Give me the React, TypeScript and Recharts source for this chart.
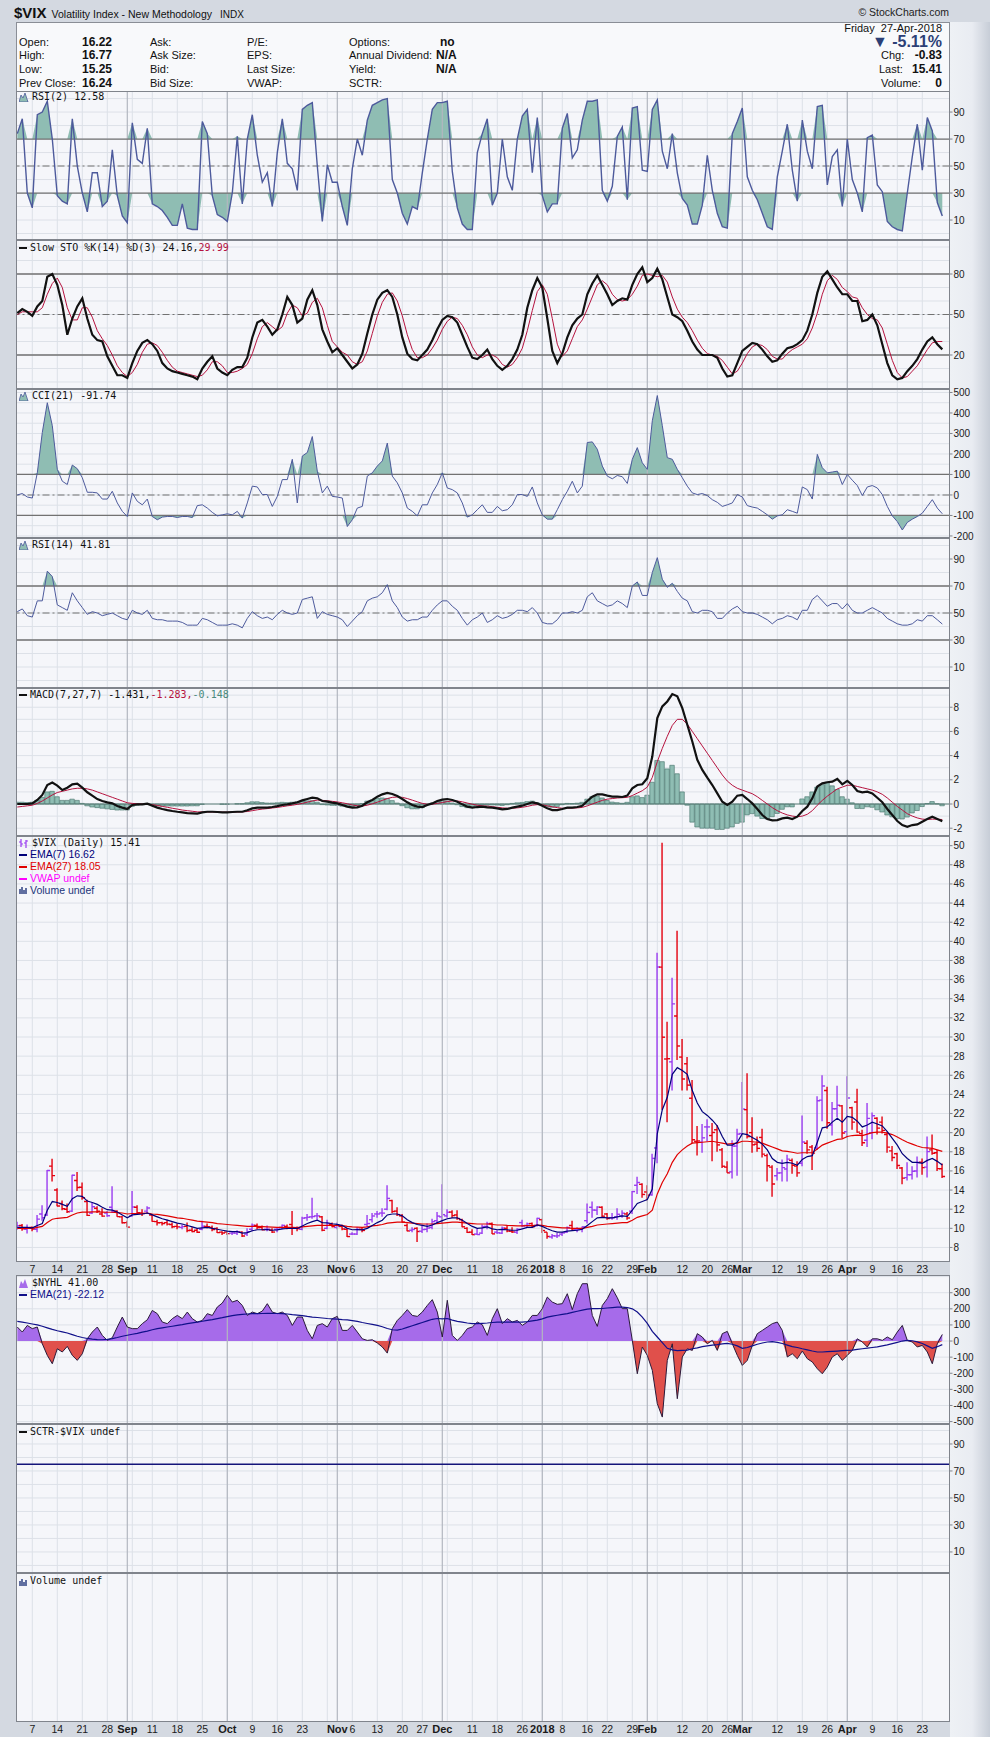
import React from 'react';
import { ComposedChart, Line, Area, Bar, XAxis, YAxis, CartesianGrid, ReferenceLine } from 'recharts';

// $VIX daily, 2-Aug-2017 .. 27-Apr-2018, one entry per trading day
const open = [
  10.15, 10.3, 9.9, 10.1, 9.9, 11.5, 11.4, 16.5, 14.0, 12.6,
  12.0, 11.8, 15.0, 14.3, 12.8, 11.6, 12.1, 11.5, 11.6, 12.2,
  11.8, 11.2, 10.6, 11.3, 12.2, 11.6, 11.8, 11.4, 10.7, 10.6,
  10.6, 10.4, 10.2, 10.1, 10.2, 9.8, 9.8, 9.9, 10.2, 10.1,
  10.0, 9.6, 9.6, 9.5, 9.5, 9.6, 9.4, 9.9, 10.3, 10.1,
  9.9, 9.8, 9.9, 10.1, 10.2, 10.4, 10.0, 9.9, 11.1, 11.2,
  11.3, 11.2, 10.0, 10.4, 10.1, 10.2, 9.9, 9.4, 9.4, 9.9,
  10.4, 10.9, 11.5, 11.6, 12.0, 12.9, 11.8, 11.3, 10.3, 9.8,
  10.0, 9.7, 9.9, 10.1, 10.8, 11.2, 11.3, 11.7, 11.4, 10.9,
  10.0, 9.6, 9.4, 9.5, 10.2, 10.5, 9.6, 9.5, 10.0, 9.7,
  9.6, 10.6, 10.3, 10.5, 10.3, 10.9, 9.6, 9.1, 9.2, 9.4,
  9.6, 10.3, 9.9, 9.9, 10.8, 12.2, 11.9, 12.2, 11.5, 11.1,
  11.2, 11.3, 11.5, 11.8, 14.5, 14.6, 13.8, 13.5, 18.4, 37.3,
  27.7, 27.4, 32.2, 27.9, 27.2, 23.6, 19.1, 19.0, 20.6, 19.7,
  20.3, 18.2, 16.4, 15.9, 18.6, 19.9, 22.4, 20.0, 18.8, 19.5,
  17.6, 16.4, 15.5, 15.8, 16.2, 17.1, 16.5, 16.8, 18.9, 18.5,
  18.4, 23.4, 24.4, 20.8, 22.5, 22.8, 20.1, 22.6, 23.2, 19.9,
  19.2, 20.0, 21.5, 21.1, 19.8, 18.1, 17.8, 16.3, 15.3, 15.6,
  16.0, 16.9, 16.4, 18.2, 17.9, 16.22,
];
const high = [
  10.68, 10.45, 10.4, 10.2, 11.4, 12.4, 16.1, 17.28, 14.2, 12.9,
  12.6, 15.6, 15.9, 14.8, 13.0, 12.7, 12.3, 12.1, 11.8, 14.4,
  11.9, 11.3, 10.8, 13.9, 12.4, 12.0, 12.3, 11.5, 10.9, 10.7,
  10.9, 10.6, 10.5, 10.4, 10.6, 10.1, 10.0, 10.8, 10.5, 10.3,
  10.1, 9.7, 9.7, 9.6, 9.8, 9.7, 10.0, 10.5, 10.5, 10.3,
  10.3, 10.0, 10.1, 10.4, 10.4, 11.8, 10.2, 11.2, 11.5, 13.2,
  11.6, 11.3, 10.9, 10.6, 10.6, 10.4, 10.0, 9.6, 10.1, 10.1,
  11.4, 11.6, 11.8, 12.1, 14.5, 13.0, 12.2, 11.5, 10.5, 10.1,
  10.1, 10.3, 10.5, 11.0, 11.7, 14.6, 12.0, 11.9, 11.9, 11.0,
  10.1, 9.9, 10.0, 10.4, 10.7, 10.6, 9.8, 10.2, 10.3, 10.1,
  10.0, 10.9, 10.6, 10.6, 11.1, 11.0, 9.6, 9.4, 9.5, 9.6,
  10.2, 10.8, 10.1, 10.2, 12.6, 12.8, 12.3, 12.3, 11.6, 11.6,
  12.1, 11.9, 11.7, 13.9, 15.4, 14.7, 14.5, 17.8, 38.8, 50.3,
  31.6, 36.2, 41.1, 29.8, 27.9, 25.5, 20.7, 20.9, 21.4, 21.0,
  20.8, 18.4, 17.0, 19.2, 20.4, 25.3, 26.2, 21.6, 19.6, 20.4,
  17.8, 16.6, 16.3, 17.2, 17.7, 17.3, 17.0, 21.8, 19.2, 18.7,
  23.8, 26.0, 24.8, 23.2, 24.9, 22.9, 25.9, 22.7, 24.6, 20.3,
  23.1, 22.1, 21.6, 21.7, 20.1, 18.6, 17.9, 16.4, 16.9, 16.5,
  17.5, 17.3, 19.6, 19.8, 18.2, 16.77,
];
const low = [
  9.85, 9.75, 9.45, 9.7, 9.6, 10.8, 11.3, 14.9, 12.3, 11.9,
  11.6, 11.7, 13.9, 13.0, 11.3, 11.5, 11.6, 11.2, 11.2, 11.6,
  11.2, 10.5, 10.1, 11.2, 11.5, 11.3, 11.5, 10.7, 10.3, 10.3,
  10.3, 10.0, 9.9, 9.9, 9.6, 9.6, 9.5, 9.8, 10.0, 9.7,
  9.5, 9.3, 9.3, 9.3, 9.3, 9.1, 9.2, 9.7, 9.9, 9.8,
  9.7, 9.5, 9.6, 9.9, 9.9, 9.3, 9.7, 9.8, 10.8, 11.0,
  10.9, 9.7, 9.9, 10.1, 9.9, 9.8, 9.1, 9.3, 9.3, 9.6,
  10.1, 10.6, 11.1, 11.2, 11.9, 11.6, 11.3, 10.6, 9.7, 9.6,
  8.56, 9.5, 9.6, 9.9, 10.5, 10.5, 11.1, 11.1, 10.9, 10.1,
  9.5, 9.3, 9.3, 9.4, 9.9, 9.4, 9.4, 9.4, 9.6, 9.5,
  9.4, 10.1, 10.1, 10.1, 10.2, 9.5, 8.9, 8.9, 9.0, 9.2,
  9.5, 9.8, 9.6, 9.6, 10.5, 11.1, 11.4, 11.1, 10.9, 10.9,
  10.9, 11.1, 10.9, 11.5, 13.6, 13.2, 12.9, 13.4, 16.8, 22.4,
  21.1, 24.4, 27.6, 24.4, 24.4, 18.9, 17.6, 17.9, 19.1, 17.0,
  18.0, 16.3, 15.8, 15.2, 15.5, 19.6, 19.4, 17.9, 18.0, 17.4,
  14.9, 13.3, 15.0, 14.9, 14.9, 15.7, 15.4, 16.5, 17.8, 16.1,
  18.2, 21.2, 20.4, 19.7, 21.6, 19.4, 19.5, 20.3, 20.0, 18.6,
  18.5, 19.3, 19.8, 19.9, 17.9, 17.0, 16.2, 14.6, 15.0, 15.1,
  15.3, 15.6, 15.3, 17.7, 16.0, 15.25,
];
const close = [
  10.28, 9.95, 10.03, 9.93, 10.96, 11.11, 16.04, 15.51, 12.33, 12.04,
  11.74, 15.55, 14.26, 13.19, 11.35, 12.25, 11.78, 11.28, 11.32, 11.7,
  11.22, 10.59, 10.13, 12.23, 11.63, 11.55, 12.12, 10.73, 10.58, 10.5,
  10.44, 10.17, 10.15, 10.18, 9.78, 9.67, 9.59, 10.21, 10.17, 9.87,
  9.55, 9.51, 9.45, 9.51, 9.63, 9.19, 9.65, 10.33, 10.08, 9.85,
  9.91, 9.61, 9.91, 10.31, 10.07, 10.05, 9.97, 11.07, 11.16, 11.23,
  11.3, 9.8, 10.5, 10.18, 10.2, 9.93, 9.14, 9.4, 9.89, 9.78,
  10.5, 11.29, 11.5, 11.59, 13.13, 11.76, 11.43, 10.65, 9.73, 9.88,
  9.67, 9.87, 10.03, 10.7, 11.28, 11.43, 11.68, 11.33, 11.02, 10.16,
  9.58, 9.34, 9.35, 10.18, 10.49, 9.42, 9.53, 10.03, 9.72, 9.62,
  9.9, 10.25, 10.47, 10.18, 11.04, 9.77, 9.15, 9.22, 9.22, 9.52,
  10.08, 9.82, 9.88, 10.16, 11.66, 11.91, 12.22, 11.27, 11.03, 11.1,
  11.47, 11.58, 11.08, 13.84, 14.79, 13.54, 13.47, 17.31, 37.32, 29.98,
  27.73, 33.46, 29.06, 25.61, 24.97, 19.26, 19.13, 19.46, 20.6, 20.02,
  18.72, 16.49, 15.8, 18.59, 19.85, 22.47, 19.59, 18.73, 18.36, 17.76,
  16.54, 14.64, 15.78, 16.35, 17.23, 16.59, 15.8, 19.02, 18.2, 17.86,
  23.34, 24.87, 21.03, 22.5, 22.87, 19.97, 23.62, 21.1, 20.06, 18.94,
  21.49, 21.77, 20.47, 20.24, 18.49, 17.41, 16.56, 15.25, 15.6, 15.96,
  16.88, 16.34, 18.02, 17.84, 16.24, 15.41,
];
const ema7 = [
  10.1, 10.1, 10.1, 10.05, 10.3, 10.5, 11.9, 12.8, 12.7, 12.5, 12.3, 13.1, 13.4, 13.35, 12.85, 12.7, 12.5, 12.2, 11.95, 11.9,
  11.7, 11.4, 11.1, 11.4, 11.45, 11.5, 11.6, 11.4, 11.2, 11.0, 10.85, 10.7, 10.55, 10.45, 10.3, 10.15, 10.0, 10.05, 10.1, 10.0,
  9.9, 9.8, 9.7, 9.65, 9.65, 9.5, 9.55, 9.75, 9.85, 9.85, 9.87, 9.8, 9.83, 9.95, 9.98, 10.0, 9.99, 10.25, 10.5, 10.7,
  10.85, 10.6, 10.58, 10.48, 10.41, 10.29, 10.0, 9.85, 9.86, 9.84, 10.0, 10.3, 10.6, 10.85, 11.4, 11.5, 11.5, 11.3, 10.9, 10.6,
  10.4, 10.3, 10.2, 10.35, 10.6, 10.8, 11.0, 11.1, 11.1, 10.85, 10.5, 10.2, 10.0, 10.05, 10.15, 9.95, 9.85, 9.9, 9.85, 9.8,
  9.8, 9.95, 10.1, 10.1, 10.35, 10.2, 9.95, 9.75, 9.6, 9.6, 9.7, 9.75, 9.8, 9.9, 10.3, 10.7, 11.1, 11.15, 11.1, 11.1,
  11.2, 11.3, 11.25, 11.9, 12.6, 12.8, 13.0, 14.1, 19.9, 22.4, 23.7, 26.1, 26.8, 26.5, 26.1, 24.4, 23.1, 22.2, 21.8, 21.3,
  20.7, 19.6, 18.7, 18.7, 19.0, 19.9, 19.8, 19.5, 19.2, 18.8, 18.2, 17.3, 16.9, 16.8, 16.9, 16.8, 16.6, 17.2, 17.5, 17.6,
  19.0, 20.5, 20.6, 21.1, 21.5, 21.1, 21.7, 21.6, 21.2, 20.6, 20.8, 21.1, 20.9, 20.7, 20.1, 19.4, 18.7, 17.8, 17.3, 16.9,
  16.9, 16.8, 17.1, 17.3, 17.0, 16.62,
];
const ema27 = [
  10.0, 10.0, 10.0, 10.0, 10.1, 10.2, 10.6, 10.95, 11.05, 11.1, 11.15, 11.4, 11.6, 11.7, 11.7, 11.72, 11.72, 11.7, 11.68, 11.68,
  11.65, 11.6, 11.5, 11.55, 11.55, 11.55, 11.6, 11.5, 11.45, 11.38, 11.3, 11.2, 11.1, 11.05, 10.95, 10.85, 10.75, 10.7, 10.65, 10.6,
  10.5, 10.45, 10.4, 10.35, 10.3, 10.25, 10.2, 10.2, 10.2, 10.18, 10.15, 10.12, 10.1, 10.1, 10.1, 10.1, 10.08, 10.15, 10.2, 10.25,
  10.3, 10.3, 10.3, 10.3, 10.3, 10.28, 10.2, 10.15, 10.13, 10.1, 10.15, 10.25, 10.3, 10.4, 10.55, 10.6, 10.65, 10.65, 10.6, 10.55,
  10.5, 10.45, 10.45, 10.45, 10.5, 10.55, 10.6, 10.65, 10.65, 10.6, 10.55, 10.5, 10.45, 10.45, 10.45, 10.4, 10.35, 10.35, 10.3, 10.28,
  10.25, 10.25, 10.28, 10.28, 10.33, 10.3, 10.2, 10.15, 10.1, 10.05, 10.05, 10.0, 10.0, 10.0, 10.1, 10.2, 10.35, 10.4, 10.45, 10.5,
  10.55, 10.6, 10.6, 10.85, 11.15, 11.3, 11.45, 11.9, 13.6, 14.8, 15.7, 16.9, 17.7, 18.2, 18.6, 18.9, 18.95, 19.0, 19.05, 19.1,
  19.0, 18.9, 18.8, 18.85, 18.9, 19.1, 19.1, 19.05, 19.0, 18.9, 18.7, 18.5, 18.3, 18.1, 18.05, 17.95, 17.85, 17.9, 17.9, 17.9,
  18.3, 18.7, 18.9, 19.1, 19.3, 19.35, 19.6, 19.7, 19.75, 19.7, 19.85, 20.0, 20.05, 20.05, 19.95, 19.8, 19.55, 19.25, 19.0, 18.8,
  18.6, 18.45, 18.4, 18.35, 18.2, 18.05,
];

// indicators
const rsi2 = [
  74, 85, 30, 19, 88, 90, 98, 70, 28, 24, 22, 85, 50, 30, 16, 45, 45, 20, 24, 62,
  28, 13, 8, 82, 55, 52, 78, 22, 20, 17, 12, 6, 6, 22, 4, 3, 3, 83, 74, 28,
  14, 12, 9, 30, 72, 22, 70, 88, 58, 38, 45, 20, 60, 85, 52, 48, 32, 92, 95, 97,
  50, 9, 51, 38, 38, 20, 6, 48, 70, 58, 84, 95, 97, 99, 100, 40, 30, 15, 7, 20,
  18, 45, 70, 92, 97, 97, 98, 46, 19, 7, 3, 3, 60, 74, 85, 21, 30, 70, 42, 32,
  70, 87, 92, 45, 86, 28, 16, 22, 22, 78, 89, 56, 62, 84, 98, 98, 99, 32, 24, 35,
  72, 79, 25, 93, 94, 47, 46, 92, 99, 61, 48, 74, 45, 26, 21, 7, 7, 21, 58, 32,
  15, 5, 4, 74, 83, 93, 42, 32, 25, 15, 5, 3, 42, 61, 81, 47, 24, 84, 61, 48,
  94, 95, 36, 57, 62, 20, 70, 40, 30, 16, 71, 73, 36, 31, 9, 5, 3, 2, 30, 57,
  81, 47, 86, 76, 23, 13,
];
const stoK = [
  51, 54, 52, 49, 56, 60, 78, 80, 72, 57, 35, 47, 56, 62, 47, 35, 31, 30, 19, 12,
  5, 5, 3, 14, 23, 29, 31, 28, 23, 14, 10, 8, 7, 6, 5, 4, 2, 10, 15, 19,
  10, 7, 5, 9, 11, 11, 18, 33, 44, 46, 41, 35, 39, 50, 63, 57, 44, 47, 61, 68,
  57, 39, 30, 22, 25, 20, 15, 10, 13, 21, 36, 50, 61, 66, 68, 63, 50, 33, 21, 17,
  16, 20, 24, 31, 39, 46, 49, 48, 44, 35, 26, 18, 17, 20, 24, 17, 12, 9, 12, 17,
  24, 35, 55, 68, 77, 70, 47, 23, 14, 21, 33, 42, 47, 50, 65, 73, 79, 72, 65, 57,
  60, 62, 61, 72, 80, 85, 74, 77, 84, 76, 63, 50, 48, 45, 38, 30, 24, 20, 20, 20,
  18, 10, 4, 5, 14, 23, 26, 29, 28, 24, 19, 15, 16, 21, 25, 26, 28, 31, 38, 50,
  66, 78, 82, 76, 70, 65, 65, 60, 60, 45, 46, 50, 42, 28, 14, 5, 2, 3, 8, 12,
  17, 24, 30, 33, 28, 24.16,
];
const stoD = [
  50, 52, 52, 52, 52, 55, 65, 73, 77, 70, 55, 46, 46, 55, 55, 48, 38, 32, 27, 20,
  12, 7, 4, 7, 13, 22, 28, 29, 27, 22, 16, 11, 8, 7, 6, 5, 4, 5, 9, 15,
  15, 12, 7, 7, 8, 10, 13, 21, 32, 41, 44, 41, 38, 41, 51, 57, 55, 49, 51, 59,
  62, 55, 42, 30, 26, 22, 20, 15, 13, 15, 23, 36, 49, 59, 65, 66, 60, 49, 35, 24,
  18, 18, 20, 25, 31, 39, 45, 48, 47, 42, 35, 26, 20, 18, 20, 20, 18, 13, 11, 13,
  18, 25, 38, 53, 67, 72, 65, 47, 28, 19, 23, 32, 41, 46, 54, 63, 72, 75, 72, 65,
  61, 60, 61, 65, 71, 79, 80, 79, 78, 79, 74, 63, 54, 48, 44, 38, 31, 25, 21, 20,
  19, 16, 11, 6, 8, 14, 21, 26, 28, 27, 24, 19, 17, 17, 21, 24, 26, 28, 32, 40,
  51, 65, 75, 79, 76, 70, 67, 63, 62, 55, 50, 47, 46, 40, 28, 16, 7, 3, 4, 8,
  12, 18, 24, 29, 30, 29.99,
];
const cci = [
  0, 7, -10, -15, 108, 305, 450, 338, 125, 67, 51, 146, 128, 84, 13, 13, 10, -20, -20, 18,
  -39, -80, -105, 10, -31, -48, -20, -105, -121, -108, -105, -105, -110, -105, -105, -110, -52, -48, -64, -85,
  -102, -97, -92, -97, -80, -113, -39, 43, 39, 2, 2, -56, -7, 75, 75, 174, -39, 190, 207, 285,
  116, 10, 43, -7, -10, -15, -154, -121, -64, -56, 92, 108, 141, 166, 253, 92, 59, 10, -64, -80,
  -102, -48, -48, 10, 51, 108, 34, 26, 10, -39, -108, -97, -72, -48, -85, -85, -56, -77, -72, -48,
  2, 2, -7, 39, -39, -97, -118, -118, -72, -23, 18, 67, 10, 43, 256, 259, 223, 141, 92, 79,
  95, 89, 56, 174, 231, 157, 125, 362, 485, 338, 182, 174, 125, 84, 43, 10, 2, 7, -3, -23,
  -36, -56, -48, -39, 2, -10, -52, -59, -64, -80, -97, -118, -102, -97, -72, -80, -89, 39, 26, -20,
  198, 133, 108, 112, 116, 51, 100, 72, 46, -3, 39, 46, 34, 2, -56, -102, -130, -171, -134, -118,
  -105, -89, -56, -23, -64, -91.74,
];
const rsi14 = [
  51, 53, 48, 47, 59, 59, 81, 77, 56, 54, 52, 65, 59, 54, 49, 51, 50, 48, 49, 50,
  48, 46, 45, 52, 50, 49, 52, 46, 45, 45, 44, 44, 44, 43, 41, 41, 41, 46, 45, 43,
  41, 41, 41, 42, 41, 39, 46, 51, 48, 46, 47, 45, 49, 52, 50, 49, 50, 60, 61, 62,
  46, 51, 49, 48, 47, 45, 40, 44, 48, 51, 59, 61, 62, 65, 71, 59, 54, 47, 44, 45,
  45, 47, 47, 52, 56, 59, 59, 55, 52, 46, 41, 45, 47, 50, 43, 45, 48, 46, 47, 49,
  52, 52, 51, 54, 50, 43, 42, 42, 45, 50, 50, 51, 50, 52, 62, 65, 59, 57, 55, 56,
  59, 57, 54, 70, 73, 63, 63, 80, 91, 75, 69, 72, 66, 61, 59, 51, 50, 52, 52, 51,
  46, 46, 50, 53, 55, 51, 50, 50, 49, 47, 45, 42, 45, 46, 48, 47, 45, 52, 52, 60,
  63, 59, 55, 57, 57, 53, 57, 52, 50, 50, 52, 54, 52, 50, 46, 44, 42, 41, 41, 42,
  45, 44, 48, 48, 45, 41.81,
];
const macd = [
  0, 0, 0, 0.05, 0.33, 0.75, 1.57, 1.77, 1.52, 1.16, 1.35, 1.63, 1.69, 1.35, 0.97, 0.69, 0.41, 0.25, 0.14, 0.05,
  -0.17, -0.3, -0.41, -0.08, -0.03, -0.03, 0.03, -0.14, -0.3, -0.41, -0.5, -0.58, -0.64, -0.69, -0.75, -0.77, -0.8, -0.69, -0.64, -0.64,
  -0.66, -0.69, -0.69, -0.66, -0.64, -0.64, -0.52, -0.36, -0.3, -0.3, -0.3, -0.25, -0.17, -0.08, -0.03, 0.05, 0.14, 0.3, 0.41, 0.52,
  0.47, 0.25, 0.19, 0.11, 0.05, -0.08, -0.22, -0.3, -0.28, -0.14, 0.14, 0.33, 0.61, 0.8, 0.91, 0.83, 0.66, 0.41, 0.14, -0.08,
  -0.22, -0.25, -0.08, 0.05, 0.25, 0.36, 0.41, 0.33, 0.19, -0.03, -0.22, -0.3, -0.25, -0.22, -0.28, -0.3, -0.36, -0.44, -0.41, -0.3,
  -0.22, -0.14, 0, 0.14, 0.05, -0.14, -0.36, -0.5, -0.5, -0.41, -0.3, -0.3, -0.25, -0.14, 0.25, 0.61, 0.8, 0.8, 0.69, 0.61,
  0.61, 0.58, 0.69, 1.3, 1.57, 1.63, 2.13, 3.92, 7.1, 8.07, 8.48, 9.09, 8.9, 7.93, 6.55, 5.17, 3.65, 2.82, 2.18, 1.57,
  0.88, 0.19, -0.08, 0.19, 0.69, 0.75, 0.41, 0.05, -0.41, -0.91, -1.24, -1.35, -1.33, -1.19, -1.13, -1.24, -1.05, -0.58, -0.22, 0.47,
  1.44, 1.71, 1.8, 1.85, 2.07, 1.63, 1.91, 1.57, 1.08, 0.97, 1.02, 0.88, 0.52, 0.14, -0.41, -0.91, -1.41, -1.74, -1.88, -1.74,
  -1.69, -1.46, -1.24, -1.05, -1.24, -1.431,
];
const macdSignal = [
  -0.25, -0.2, -0.15, -0.1, 0.05, 0.25, 0.5, 0.75, 0.95, 1.05, 1.15, 1.25, 1.3, 1.3, 1.25, 1.15, 1.0, 0.85, 0.7, 0.55,
  0.4, 0.25, 0.1, 0.05, 0.02, 0, 0, -0.05, -0.12, -0.2, -0.27, -0.35, -0.42, -0.5, -0.55, -0.6, -0.65, -0.66, -0.66, -0.66,
  -0.66, -0.67, -0.67, -0.67, -0.66, -0.65, -0.62, -0.55, -0.48, -0.42, -0.38, -0.33, -0.28, -0.22, -0.15, -0.1, -0.03, 0.05, 0.15, 0.25,
  0.32, 0.3, 0.27, 0.22, 0.17, 0.1, 0.02, -0.08, -0.15, -0.17, -0.1, 0.02, 0.15, 0.3, 0.45, 0.55, 0.58, 0.55, 0.45, 0.32,
  0.18, 0.05, -0.02, -0.02, 0.05, 0.12, 0.2, 0.25, 0.25, 0.18, 0.08, -0.02, -0.1, -0.15, -0.18, -0.22, -0.27, -0.32, -0.35, -0.35,
  -0.32, -0.27, -0.2, -0.1, -0.05, -0.07, -0.15, -0.23, -0.3, -0.35, -0.35, -0.34, -0.32, -0.28, -0.15, 0, 0.15, 0.3, 0.4, 0.45,
  0.5, 0.52, 0.55, 0.7, 0.9, 1.1, 1.4, 2.2, 3.5, 4.6, 5.6, 6.5, 7.0, 7.0, 6.6, 6.0, 5.4, 4.8, 4.2, 3.6,
  3.0, 2.4, 1.9, 1.55, 1.3, 1.15, 1.0, 0.85, 0.6, 0.3, 0, -0.3, -0.55, -0.75, -0.9, -1.0, -1.05, -1.0, -0.85, -0.55,
  -0.1, 0.3, 0.65, 0.95, 1.25, 1.4, 1.55, 1.55, 1.45, 1.35, 1.25, 1.15, 1.0, 0.8, 0.5, 0.15, -0.2, -0.5, -0.8, -1.0,
  -1.15, -1.25, -1.28, -1.25, -1.26, -1.283,
];
const macdHist = [
  0.15, 0.15, 0.12, 0.15, 0.3, 0.55, 1.0, 1.05, 0.6, 0.3, 0.3, 0.4, 0.3, 0.05, -0.15, -0.25, -0.3, -0.35, -0.4, -0.45,
  -0.5, -0.5, -0.5, -0.2, -0.1, -0.05, 0.05, -0.08, -0.15, -0.17, -0.17, -0.17, -0.17, -0.17, -0.17, -0.15, -0.15, -0.03, 0, 0,
  0, -0.02, -0.02, 0, 0.02, 0.02, 0.1, 0.18, 0.18, 0.12, 0.08, 0.08, 0.1, 0.14, 0.12, 0.15, 0.17, 0.25, 0.26, 0.27,
  0.15, -0.05, -0.08, -0.11, -0.12, -0.18, -0.24, -0.22, -0.13, 0.03, 0.24, 0.31, 0.46, 0.5, 0.46, 0.28, 0.08, -0.14, -0.31, -0.4,
  -0.4, -0.3, -0.06, 0.07, 0.2, 0.24, 0.21, 0.08, -0.06, -0.21, -0.3, -0.28, -0.15, -0.07, -0.1, -0.08, -0.09, -0.12, -0.06, 0.05,
  0.1, 0.13, 0.2, 0.24, 0.1, -0.07, -0.21, -0.27, -0.2, -0.06, 0.05, 0.04, 0.07, 0.14, 0.4, 0.61, 0.65, 0.5, 0.29, 0.16,
  0.11, 0.06, 0.14, 0.6, 0.67, 0.53, 0.73, 1.8, 3.6, 3.5, 2.9, 3.2, 2.5, 1.0, -0.1, -1.5, -1.9, -2.0, -2.0, -2.0,
  -2.1, -2.1, -2.0, -1.9, -1.6, -1.5, -0.9, -0.8, -1.0, -1.2, -1.24, -1.05, -0.78, -0.44, -0.23, -0.24, 0, 0.42, 0.6, 1.0,
  1.4, 1.6, 1.8, 1.5, 1.2, 0.6, 0.4, 0.1, -0.37, -0.38, -0.23, -0.27, -0.48, -0.66, -0.91, -1.06, -1.21, -1.24, -1.08, -0.74,
  -0.54, -0.21, 0.04, 0.2, 0.02, -0.148,
];
const nyhl = [
  87, 56, 97, 77, 87, -17, -89, -141, -48, -68, -33, -89, -120, -79, 14, 56, 87, 35, 4, 21,
  87, 149, 87, 77, 77, 108, 132, 190, 170, 118, 108, 139, 159, 139, 180, 139, 118, 128, 170, 159,
  211, 236, 284, 242, 253, 221, 159, 180, 170, 186, 232, 180, 170, 180, 159, 97, 149, 149, 66, 14,
  97, 108, 87, 139, 153, 66, 66, 97, 56, 14, 4, 8, -12, -37, -75, 77, 128, 159, 195, 159,
  153, 180, 221, 257, 180, 25, 253, 35, 4, 35, 77, 87, 118, 101, 35, 139, 201, 108, 139, 118,
  128, 97, 118, 159, 159, 201, 273, 242, 228, 232, 294, 195, 294, 356, 356, 159, 91, 221, 263, 325,
  269, 201, 201, 4, -203, -37, -89, -182, -389, -472, -120, -17, -358, -99, -48, -58, 46, 25, -17, 4,
  -58, 46, 60, -17, -89, -151, -120, -27, 46, 66, 87, 108, 118, 66, -99, -79, -110, -62, -110, -130,
  -172, -203, -161, -99, -79, -120, -89, -58, 14, -6, -37, 14, 14, 4, 25, 8, 56, 97, 4, -6,
  -37, -27, -68, -141, -17, 41,
];
const nyhlEma = [
  122, 118, 112, 106, 100, 92, 82, 72, 64, 57, 50, 40, 30, 22, 16, 12, 9, 8, 10, 15,
  22, 30, 36, 42, 48, 55, 62, 70, 77, 82, 87, 92, 97, 102, 108, 113, 118, 123, 128, 133,
  139, 145, 152, 158, 163, 166, 168, 170, 170, 171, 172, 172, 171, 170, 168, 164, 161, 158, 153, 149,
  146, 143, 140, 138, 136, 133, 131, 127, 122, 115, 109, 103, 97, 89, 78, 70, 68, 75, 85, 95,
  105, 115, 125, 135, 140, 138, 140, 130, 122, 118, 112, 108, 108, 110, 112, 115, 118, 118, 118, 118,
  118, 118, 120, 125, 130, 138, 148, 155, 160, 165, 170, 178, 185, 192, 198, 201, 201, 202, 205, 208,
  210, 211, 208, 200, 180, 149, 110, 60, 25, -10, -45, -55, -60, -58, -56, -48, -42, -35, -30, -25,
  -22, -18, -15, -20, -30, -45, -40, -30, -20, -12, -6, -4, -8, -15, -25, -35, -40, -48, -55, -62,
  -68, -68, -66, -64, -62, -60, -58, -56, -52, -48, -44, -40, -36, -30, -24, -16, -8, 0, 4, 2,
  -5, -15, -30, -45, -35, -22.12,
];

// calendar (trading-day index)
const weekStarts = [3, 8, 13, 18, 23, 27, 32, 37, 42, 47, 52, 57, 62, 67, 72, 77, 81, 86, 91, 96, 101, 105, 109, 114, 118, 123, 128, 133, 138, 142, 147, 152, 157, 162, 166, 171, 176, 181];
const monthStarts = [22, 42, 64, 85, 105, 126, 145, 166];
const tickIdx = [3, 8, 13, 18, 22, 27, 32, 37, 42, 47, 52, 57, 64, 67, 72, 77, 81, 85, 91, 96, 101, 105, 109, 114, 118, 123, 126, 133, 138, 142, 145, 152, 157, 162, 166, 171, 176, 181];
const tickText = ['7', '14', '21', '28', 'Sep', '11', '18', '25', 'Oct', '9', '16', '23', 'Nov', '6', '13', '20', '27', 'Dec', '11', '18', '26', '2018', '8', '16', '22', '29', 'Feb', '12', '20', '26', 'Mar', '12', '19', '26', 'Apr', '9', '16', '23'];
const boldTicks = ['Sep', 'Oct', 'Nov', 'Dec', '2018', 'Feb', 'Mar', 'Apr'];

const rows = close.map((c, i) => ({
  i,
  o: open[i], h: high[i], l: low[i], c,
  hl: [low[i], high[i]],
  up: i === 0 || c >= close[i - 1],
  ema7: ema7[i], ema27: ema27[i],
  rsi2: rsi2[i], rsi2Hi: [70, Math.max(rsi2[i], 70)], rsi2Lo: [Math.min(rsi2[i], 30), 30],
  k: stoK[i], d: stoD[i],
  cci: cci[i], cciHi: [100, Math.max(cci[i], 100)], cciLo: [Math.min(cci[i], -100), -100],
  rsi14: rsi14[i], rsi14Hi: [70, Math.max(rsi14[i], 70)],
  macd: macd[i], signal: macdSignal[i], hist: macdHist[i],
  nyhl: nyhl[i], nyhlPos: [0, Math.max(nyhl[i], 0)], nyhlNeg: [Math.min(nyhl[i], 0), 0], nyhlEma: nyhlEma[i],
}));

const X_DOMAIN: [number, number] = [-0.16, 186.44];
const PLOT_BG = '#f5f6fa';
const GRID = '#dde1e8';
const LEVEL = '#727272';
const TEAL = '#8fbdb3';
const RSI_LINE = '#4d5a9c';
const CRIMSON = '#b5123e';
const sans = '"Liberation Sans", Arial, sans-serif';
const mono = '"DejaVu Sans Mono", monospace';

function DateTick(props: any) {
  const { x, y, payload } = props;
  const k = tickIdx.indexOf(payload.value);
  const t = k >= 0 ? tickText[k] : '';
  const bold = boldTicks.includes(t);
  return (
    <text x={x} y={y} dy={10.5} textAnchor="middle" fontFamily={sans} fontSize={bold ? 11 : 10.5} fontWeight={bold ? 700 : 400} fill="#1b1b1b">
      {t}
    </text>
  );
}

function OhlcBar(props: any) {
  const { x, y, width, height, payload } = props;
  if (x == null || y == null || !payload) return null;
  const top = Math.min(y, y + height);
  const bot = Math.max(y, y + height);
  const span = payload.h - payload.l || 1;
  const yO = top + ((payload.h - payload.o) / span) * (bot - top);
  const yC = top + ((payload.h - payload.c) / span) * (bot - top);
  const cx = x + width / 2;
  const col = payload.up ? '#9a3cf0' : '#e3000f';
  return (
    <g stroke={col} strokeWidth={1.4}>
      <line x1={cx} x2={cx} y1={top} y2={bot} />
      <line x1={cx - 3} x2={cx} y1={yO} y2={yO} />
      <line x1={cx} x2={cx + 3} y1={yC} y2={yC} />
    </g>
  );
}

type PanelProps = {
  top: number;
  height: number;
  domain: [number, number];
  ticks?: number[];
  grid?: number[];
  dates?: boolean;
  children?: React.ReactNode;
};

function Panel({ top, height, domain, ticks, grid, dates, children }: PanelProps) {
  const axisH = dates ? (top > 1500 ? 15 : 13) : 0;
  return (
    <div style={{ position: 'absolute', left: 0, top, width: 990, height }}>
      <ComposedChart width={990} height={height} data={rows} margin={{ top: 0, right: 0, bottom: 0, left: 16.5 }}>
        <CartesianGrid
          fill={PLOT_BG}
          stroke={GRID}
          horizontal={!!grid}
          horizontalValues={grid}
          verticalValues={weekStarts}
        />
        <XAxis
          dataKey="i"
          type="number"
          domain={X_DOMAIN}
          allowDataOverflow
          hide={!dates}
          height={axisH}
          ticks={tickIdx}
          interval={0}
          tick={DateTick}
          tickLine={false}
          axisLine={false}
          tickSize={0}
          tickMargin={0}
        />
        <YAxis
          orientation="right"
          width={40.5}
          type="number"
          domain={domain}
          allowDataOverflow
          ticks={ticks ?? []}
          interval={0}
          tickSize={3}
          tickMargin={1}
          tick={{ fontSize: 10, fill: '#202020', fontFamily: sans }}
          axisLine={{ stroke: '#80848c' }}
          tickLine={{ stroke: '#80848c' }}
        />
        {monthStarts.map((m) => (
          <ReferenceLine key={'m' + m} x={m} stroke="#b3b7c0" strokeWidth={1.2} />
        ))}
        {children}
      </ComposedChart>
      <div
        style={{
          position: 'absolute', left: 16, top: 0, width: 934, height: height - axisH,
          border: '1px solid #80848c', boxSizing: 'border-box', pointerEvents: 'none',
        }}
      />
    </div>
  );
}

const mountain = (
  <svg width="10" height="10" style={{ marginRight: 3 }}>
    <path d="M0 10 L2 3 L4 6 L6 1 L9 10 Z" fill={TEAL} stroke={RSI_LINE} strokeWidth="0.8" />
  </svg>
);
const dash = (color: string) => (
  <span style={{ display: 'inline-block', width: 8, height: 2, background: color, marginRight: 3, verticalAlign: 'middle' }} />
);

function Legend({ top, children }: { top: number; children: React.ReactNode }) {
  return (
    <div style={{ position: 'absolute', left: 19, top, font: `10px ${mono}`, lineHeight: '12px', color: '#111', whiteSpace: 'nowrap', display: 'flex', alignItems: 'center' }}>
      {children}
    </div>
  );
}

function Cell({ x, y, children, bold, size, align, color }: any) {
  const style: React.CSSProperties = {
    position: 'absolute', top: y - 8, height: 16, lineHeight: '16px', whiteSpace: 'nowrap',
    fontFamily: sans, fontSize: size ?? (bold ? 12 : 11), fontWeight: bold ? 700 : 400, color: color ?? '#111',
  };
  if (align === 'right') style.right = 990 - x;
  else style.left = x;
  return <div style={style}>{children}</div>;
}

export default function App() {
  const levels = (lo: number, mid: number, hi: number) => [
    <ReferenceLine key="lo" y={lo} stroke={LEVEL} strokeWidth={1.3} />,
    <ReferenceLine key="mid" y={mid} stroke={LEVEL} strokeWidth={1.1} strokeDasharray="7 3 2 3" />,
    <ReferenceLine key="hi" y={hi} stroke={LEVEL} strokeWidth={1.3} />,
  ];
  const tens = [0, 10, 20, 30, 40, 50, 60, 70, 80, 90, 100];

  return (
    <div style={{ position: 'absolute', left: 0, top: 0, width: 990, height: 1737, overflow: 'hidden', background: '#d4d9e1' }}>
      <style>{'.recharts-surface{overflow:visible}'}</style>
      {/* right axis strip */}
      <div style={{ position: 'absolute', left: 950, top: 22, width: 40, height: 1715, background: 'linear-gradient(to right, #eef1f5 0%, #e9ecf2 55%, #c7cdd7 100%)' }} />

      {/* title */}
      <div style={{ position: 'absolute', left: 14, top: 4, fontFamily: sans, whiteSpace: 'nowrap', color: '#111' }}>
        <span style={{ fontSize: 15, fontWeight: 700 }}>$VIX</span>
        <span style={{ fontSize: 10.5, marginLeft: 5 }}>Volatility Index - New Methodology</span>
        <span style={{ fontSize: 10, marginLeft: 8 }}>INDX</span>
      </div>
      <div style={{ position: 'absolute', right: 41, top: 6, fontFamily: sans, fontSize: 10.5, color: '#222' }}>© StockCharts.com</div>

      {/* quote box */}
      <div style={{ position: 'absolute', left: 16, top: 22, width: 934, height: 70, background: '#f8f9fb', border: '1px solid #8a8e96', boxSizing: 'border-box' }} />
      <Cell x={942} y={28} align="right">Friday&nbsp; 27-Apr-2018</Cell>
      <Cell x={19} y={42}>Open:</Cell>
      <Cell x={19} y={55}>High:</Cell>
      <Cell x={19} y={69}>Low:</Cell>
      <Cell x={19} y={83}>Prev Close:</Cell>
      <Cell x={82} y={42} bold>16.22</Cell>
      <Cell x={82} y={55} bold>16.77</Cell>
      <Cell x={82} y={69} bold>15.25</Cell>
      <Cell x={82} y={83} bold>16.24</Cell>
      <Cell x={150} y={42}>Ask:</Cell>
      <Cell x={150} y={55}>Ask Size:</Cell>
      <Cell x={150} y={69}>Bid:</Cell>
      <Cell x={150} y={83}>Bid Size:</Cell>
      <Cell x={247} y={42}>P/E:</Cell>
      <Cell x={247} y={55}>EPS:</Cell>
      <Cell x={247} y={69}>Last Size:</Cell>
      <Cell x={247} y={83}>VWAP:</Cell>
      <Cell x={349} y={42}>Options:</Cell>
      <Cell x={349} y={55}>Annual Dividend:</Cell>
      <Cell x={349} y={69}>Yield:</Cell>
      <Cell x={349} y={83}>SCTR:</Cell>
      <Cell x={440} y={42} bold>no</Cell>
      <Cell x={436} y={55} bold>N/A</Cell>
      <Cell x={436} y={69} bold>N/A</Cell>
      <Cell x={942} y={42} align="right" size={16} bold color="#2c3f76">▼ -5.11%</Cell>
      <Cell x={881} y={55}>Chg:</Cell>
      <Cell x={879} y={69}>Last:</Cell>
      <Cell x={881} y={83}>Volume:</Cell>
      <Cell x={942} y={55} align="right" bold>-0.83</Cell>
      <Cell x={942} y={69} align="right" bold>15.41</Cell>
      <Cell x={942} y={83} align="right" bold>0</Cell>

      {/* RSI(2) */}
      <Panel top={91} height={149} domain={[-4.8, 105.6]} ticks={[10, 30, 50, 70, 90]} grid={tens}>
        {levels(30, 50, 70)}
        <Area dataKey="rsi2Hi" type="linear" stroke="none" fill={TEAL} fillOpacity={1} isAnimationActive={false} />
        <Area dataKey="rsi2Lo" type="linear" stroke="none" fill={TEAL} fillOpacity={1} isAnimationActive={false} />
        <Line dataKey="rsi2" type="linear" stroke={RSI_LINE} strokeWidth={1.4} dot={false} isAnimationActive={false} />
      </Panel>

      {/* Slow STO */}
      <Panel top={240} height={149} domain={[-5.2, 105.2]} ticks={[20, 50, 80]} grid={tens}>
        {levels(20, 50, 80)}
        <Line dataKey="d" type="linear" stroke={CRIMSON} strokeWidth={1} dot={false} isAnimationActive={false} />
        <Line dataKey="k" type="linear" stroke="#111" strokeWidth={2.2} dot={false} isAnimationActive={false} />
      </Panel>

      {/* CCI(21) */}
      <Panel top={389} height={149} domain={[-210, 517]} ticks={[-200, -100, 0, 100, 200, 300, 400, 500]} grid={[-200, -150, -100, -50, 0, 50, 100, 150, 200, 250, 300, 350, 400, 450, 500]}>
        {levels(-100, 0, 100)}
        <Area dataKey="cciHi" type="linear" stroke="none" fill={TEAL} fillOpacity={1} isAnimationActive={false} />
        <Area dataKey="cciLo" type="linear" stroke="none" fill={TEAL} fillOpacity={1} isAnimationActive={false} />
        <Line dataKey="cci" type="linear" stroke={RSI_LINE} strokeWidth={1} dot={false} isAnimationActive={false} />
      </Panel>

      {/* RSI(14) */}
      <Panel top={538} height={150} domain={[-5.56, 105.56]} ticks={[10, 30, 50, 70, 90]} grid={tens}>
        {levels(30, 50, 70)}
        <Area dataKey="rsi14Hi" type="linear" stroke="none" fill={TEAL} fillOpacity={1} isAnimationActive={false} />
        <Line dataKey="rsi14" type="linear" stroke={RSI_LINE} strokeWidth={1} dot={false} isAnimationActive={false} />
      </Panel>

      {/* MACD */}
      <Panel top={688} height={148} domain={[-2.645, 9.59]} ticks={[-2, 0, 2, 4, 6, 8]} grid={[-2, -1, 0, 1, 2, 3, 4, 5, 6, 7, 8, 9]}>
        <Bar dataKey="hist" barSize={5} fill={TEAL} stroke="#3f6f66" strokeWidth={0.6} isAnimationActive={false} />
        <ReferenceLine y={0} stroke="#5c7f78" strokeWidth={1} />
        <Line dataKey="signal" type="linear" stroke={CRIMSON} strokeWidth={1} dot={false} isAnimationActive={false} />
        <Line dataKey="macd" type="linear" stroke="#111" strokeWidth={2.2} dot={false} isAnimationActive={false} />
      </Panel>

      {/* $VIX price */}
      <Panel
        top={836}
        height={439}
        domain={[6.48, 51.01]}
        dates
        ticks={[8, 10, 12, 14, 16, 18, 20, 22, 24, 26, 28, 30, 32, 34, 36, 38, 40, 42, 44, 46, 48, 50]}
        grid={[8, 10, 12, 14, 16, 18, 20, 22, 24, 26, 28, 30, 32, 34, 36, 38, 40, 42, 44, 46, 48, 50]}
      >
        <Bar dataKey="hl" barSize={5} shape={OhlcBar} isAnimationActive={false} />
        <Line dataKey="ema27" type="linear" stroke="#e00000" strokeWidth={1.2} dot={false} isAnimationActive={false} />
        <Line dataKey="ema7" type="linear" stroke="#00007a" strokeWidth={1.2} dot={false} isAnimationActive={false} />
      </Panel>

      {/* $NYHL */}
      <Panel top={1275} height={149} domain={[-515, 410]} ticks={[-500, -400, -300, -200, -100, 0, 100, 200, 300]} grid={[-500, -400, -300, -200, -100, 0, 100, 200, 300, 400]}>
        <Area dataKey="nyhlPos" type="linear" stroke="none" fill="#a66bea" fillOpacity={1} isAnimationActive={false} />
        <Area dataKey="nyhlNeg" type="linear" stroke="none" fill="#e0504b" fillOpacity={1} isAnimationActive={false} />
        <Line dataKey="nyhl" type="linear" stroke="#2a1a3a" strokeWidth={1} dot={false} isAnimationActive={false} />
        <Line dataKey="nyhlEma" type="linear" stroke="#10108a" strokeWidth={1.2} dot={false} isAnimationActive={false} />
      </Panel>

      {/* SCTR */}
      <Panel top={1424} height={149} domain={[-5.6, 104.8]} ticks={[10, 30, 50, 70, 90]} grid={tens}>
        <ReferenceLine y={75} stroke="#14147a" strokeWidth={1.6} />
      </Panel>

      {/* Volume */}
      <Panel top={1573} height={164} domain={[0, 1]} dates />

      {/* panel legends */}
      <Legend top={91}>{mountain}<span>RSI(2) 12.58</span></Legend>
      <Legend top={242}>{dash('#111')}<span>Slow STO %K(14) %D(3) 24.16, </span><span style={{ color: CRIMSON }}>29.99</span></Legend>
      <Legend top={390}>{mountain}<span>CCI(21) -91.74</span></Legend>
      <Legend top={539}>{mountain}<span>RSI(14) 41.81</span></Legend>
      <Legend top={689}>{dash('#111')}<span>MACD(7,27,7) -1.431, </span><span style={{ color: CRIMSON }}>-1.283, </span><span style={{ color: '#4a8a7c' }}>-0.148</span></Legend>

      <div style={{ position: 'absolute', left: 19, top: 837, whiteSpace: 'nowrap', lineHeight: '11px' }}>
        <div style={{ font: `10px ${mono}`, color: '#111', display: 'flex', alignItems: 'center' }}>
          <svg width="10" height="10" style={{ marginRight: 3 }}>
            <path d="M2 1 V9 M0 4 H2 M2 6 H4 M7 2 V10 M5 5 H7 M7 3 H9" stroke="#9a3cf0" strokeWidth="1.2" fill="none" />
          </svg>
          $VIX (Daily) 15.41
        </div>
        <div style={{ font: `10.5px ${sans}`, color: '#00007a' }}>{dash('#00007a')}EMA(7) 16.62</div>
        <div style={{ font: `10.5px ${sans}`, color: '#e00000' }}>{dash('#e00000')}EMA(27) 18.05</div>
        <div style={{ font: `10.5px ${sans}`, color: '#ff00ff' }}>{dash('#ff00ff')}VWAP undef</div>
        <div style={{ font: `10.5px ${sans}`, color: '#22357a' }}>
          <svg width="9" height="9" style={{ marginRight: 2 }}>
            <path d="M1 9 V4 M3 9 V2 M5 9 V5 M7 9 V3" stroke="#22357a" strokeWidth="1.4" />
          </svg>
          Volume undef
        </div>
      </div>

      <div style={{ position: 'absolute', left: 19, top: 1277, whiteSpace: 'nowrap', lineHeight: '11px' }}>
        <div style={{ font: `10px ${mono}`, color: '#111', display: 'flex', alignItems: 'center' }}>
          <svg width="10" height="10" style={{ marginRight: 3 }}>
            <path d="M0 10 L2 3 L4 6 L6 1 L9 10 Z" fill="#a66bea" />
          </svg>
          $NYHL 41.00
        </div>
        <div style={{ font: `10.5px ${sans}`, color: '#10108a' }}>{dash('#10108a')}EMA(21) -22.12</div>
      </div>

      <Legend top={1426}>{dash('#111')}<span>SCTR-$VIX undef</span></Legend>
      <Legend top={1575}>
        <svg width="9" height="9" style={{ marginRight: 2 }}>
          <path d="M1 9 V4 M3 9 V2 M5 9 V5 M7 9 V3" stroke="#22357a" strokeWidth="1.4" />
        </svg>
        <span>Volume undef</span>
      </Legend>
    </div>
  );
}
